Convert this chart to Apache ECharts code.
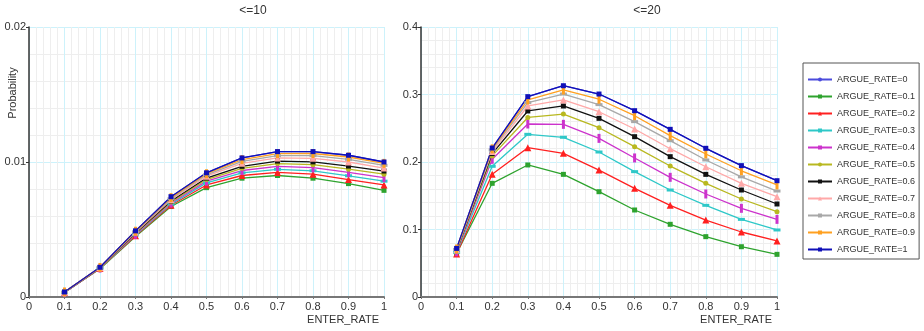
<!DOCTYPE html>
<html>
<head>
<meta charset="utf-8">
<script src="https://cdn.jsdelivr.net/npm/echarts@6/dist/echarts.min.js"></script>
<style>
    html, body {margin: 0; padding: 0; background: #fff;}
    #chart {width: 924px; height: 331px;}
</style>
</head>
<body>
<div id="chart"></div>
<script>
// enter rate on the x axis of both panels
const enterRates = [0.1, 0.2, 0.3, 0.4, 0.5, 0.6, 0.7, 0.8, 0.9, 1];
const argueNames = ['ARGUE_RATE=0', 'ARGUE_RATE=0.1', 'ARGUE_RATE=0.2', 'ARGUE_RATE=0.3', 'ARGUE_RATE=0.4',
    'ARGUE_RATE=0.5', 'ARGUE_RATE=0.6', 'ARGUE_RATE=0.7', 'ARGUE_RATE=0.8', 'ARGUE_RATE=0.9', 'ARGUE_RATE=1'];
const xTicks = [0, 0.1, 0.2, 0.3, 0.4, 0.5, 0.6, 0.7, 0.8, 0.9, 1];

// panel "<=10"
const le10_r0 = [0.00037, 0.00220, 0.00490, 0.00743, 0.00920, 0.01030, 0.01077, 0.01077, 0.01050, 0.01000];
const le10_r01 = [0.00033, 0.00210, 0.00448, 0.00670, 0.00810, 0.00880, 0.00900, 0.00880, 0.00840, 0.00790];
const le10_r02 = [0.00033, 0.00212, 0.00454, 0.00680, 0.00830, 0.00900, 0.00923, 0.00910, 0.00870, 0.00830];
const le10_r03 = [0.00034, 0.00213, 0.00460, 0.00688, 0.00845, 0.00920, 0.00946, 0.00935, 0.00898, 0.00858];
const le10_r04 = [0.00034, 0.00214, 0.00465, 0.00696, 0.00858, 0.00937, 0.00968, 0.00958, 0.00923, 0.00885];
const le10_r05 = [0.00035, 0.00215, 0.00470, 0.00704, 0.00870, 0.00953, 0.00988, 0.00980, 0.00947, 0.00910];
const le10_r06 = [0.00035, 0.00216, 0.00474, 0.00711, 0.00881, 0.00968, 0.01007, 0.01001, 0.00970, 0.00933];
const le10_r07 = [0.00036, 0.00217, 0.00479, 0.00720, 0.00895, 0.00990, 0.01030, 0.01027, 0.01000, 0.00955];
const le10_r08 = [0.00036, 0.00218, 0.00483, 0.00728, 0.00905, 0.01005, 0.01047, 0.01047, 0.01020, 0.00975];
const le10_r09 = [0.00037, 0.00219, 0.00487, 0.00736, 0.00913, 0.01018, 0.01062, 0.01063, 0.01037, 0.00990];
const le10_r1 = [0.00037, 0.00220, 0.00490, 0.00743, 0.00920, 0.01030, 0.01077, 0.01077, 0.01050, 0.01000];

// panel "<=20"
const le20_r0 = [0.0720, 0.2207, 0.2968, 0.3130, 0.3007, 0.2760, 0.2484, 0.2203, 0.1946, 0.1723];
const le20_r01 = [0.0645, 0.1684, 0.1956, 0.1817, 0.1560, 0.1289, 0.1077, 0.0894, 0.0745, 0.0632];
const le20_r02 = [0.0637, 0.1820, 0.2212, 0.2128, 0.1880, 0.1610, 0.1358, 0.1140, 0.0963, 0.0830];
const le20_r03 = [0.0660, 0.1936, 0.2410, 0.2366, 0.2148, 0.1857, 0.1585, 0.1358, 0.1150, 0.0993];
const le20_r04 = [0.0670, 0.2040, 0.2563, 0.2558, 0.2350, 0.2060, 0.1773, 0.1526, 0.1314, 0.1150];
const le20_r05 = [0.0680, 0.2090, 0.2660, 0.2710, 0.2508, 0.2227, 0.1940, 0.1684, 0.1452, 0.1264];
const le20_r06 = [0.0690, 0.2125, 0.2756, 0.2830, 0.2647, 0.2375, 0.2079, 0.1817, 0.1585, 0.1378];
const le20_r07 = [0.0700, 0.2155, 0.2830, 0.2919, 0.2745, 0.2489, 0.2197, 0.1930, 0.1684, 0.1486];
const le20_r08 = [0.0705, 0.2180, 0.2880, 0.3007, 0.2850, 0.2598, 0.2316, 0.2030, 0.1780, 0.1570];
const le20_r09 = [0.0712, 0.2195, 0.2920, 0.3067, 0.2930, 0.2686, 0.2390, 0.2119, 0.1870, 0.1660];
const le20_r1 = [0.0720, 0.2207, 0.2968, 0.3130, 0.3007, 0.2760, 0.2484, 0.2203, 0.1946, 0.1723];

const le10Values = [le10_r0, le10_r01, le10_r02, le10_r03, le10_r04, le10_r05, le10_r06, le10_r07, le10_r08, le10_r09, le10_r1];
const le20Values = [le20_r0, le20_r01, le20_r02, le20_r03, le20_r04, le20_r05, le20_r06, le20_r07, le20_r08, le20_r09, le20_r1];

// line colour + marker per argue rate
const styles = [
    {color: '#4b4bdc', symbol: 'circle', size: 4},
    {color: '#2ea32e', symbol: 'rect', size: 5},
    {color: '#ff2020', symbol: 'triangle', size: 7},
    {color: '#2ec8c8', symbol: 'rect', size: [7, 3]},
    {color: '#cc33cc', symbol: 'rect', size: [3, 9]},
    {color: '#b8b820', symbol: 'circle', size: 5},
    {color: '#111111', symbol: 'rect', size: 5},
    {color: '#ffa8a8', symbol: 'triangle', size: 7},
    {color: '#a8a8a8', symbol: 'rect', size: [7, 3]},
    {color: '#ffa020', symbol: 'rect', size: [3, 9]},
    {color: '#1010b8', symbol: 'rect', size: 5}
];

const font = 'Liberation Sans, Arial, sans-serif';

function makeXAxis(gridIndex) {
    return {
        type: 'value', gridIndex, min: 0, max: 1, interval: 0.1,
        name: 'ENTER_RATE', nameLocation: 'end', nameGap: -5,
        nameTextStyle: {color: '#333', fontSize: 11, fontFamily: font, align: 'right', verticalAlign: 'top', padding: [17, 0, 0, 0]},
        axisLine: {onZero: false, lineStyle: {color: '#777', width: 2}},
        axisTick: {show: true, length: 2, lineStyle: {color: '#777'}},
        axisLabel: {color: '#333', fontSize: 11, fontFamily: font, margin: 4,
            formatter: v => xTicks.indexOf(Math.round(v * 10) / 10) >= 0 ? String(Math.round(v * 10) / 10) : ''},
        splitLine: {show: true, lineStyle: {color: '#cdf2fb', width: 1}},
        minorSplitLine: {show: true, lineStyle: {color: '#eeeeee', width: 1}},
        minorTick: {show: false, splitNumber: 5}
    };
}

function makeYAxis(gridIndex, max, interval, name) {
    return {
        type: 'value', gridIndex, min: 0, max, interval,
        name, nameLocation: 'middle', nameGap: 11, nameMoveOverlap: false,
        nameTextStyle: {color: '#333', fontSize: 11, fontFamily: font, padding: [0, 0, 0, 138]},
        axisLine: {show: true, lineStyle: {color: '#333', width: 1.5}},
        axisTick: {show: true, length: 3, lineStyle: {color: '#333'}},
        axisLabel: {color: '#333', fontSize: 11, fontFamily: font, margin: 3},
        splitLine: {show: true, lineStyle: {color: '#cdf2fb', width: 1}},
        minorSplitLine: {show: true, lineStyle: {color: '#eeeeee', width: 1}},
        minorTick: {show: false, splitNumber: 5}
    };
}

function makeSeries(values, idx) {
    return values.map((vals, i) => ({
        name: argueNames[i],
        type: 'line',
        xAxisIndex: idx, yAxisIndex: idx,
        data: enterRates.map((x, k) => [x, vals[k]]),
        color: styles[i].color,
        symbol: styles[i].symbol,
        symbolSize: styles[i].size,
        showAllSymbol: true,
        lineStyle: {width: 1.3, color: styles[i].color},
        itemStyle: {color: styles[i].color},
        animation: false
    }));
}

const option = {
    animation: false,
    backgroundColor: '#fff',
    title: [
        {text: '<=10', left: 248, top: 0, textAlign: 'center', textStyle: {color: '#333', fontSize: 12, fontWeight: 'normal', fontFamily: font}},
        {text: '<=20', left: 642, top: 0, textAlign: 'center', textStyle: {color: '#333', fontSize: 12, fontWeight: 'normal', fontFamily: font}}
    ],
    legend: {
        orient: 'vertical', left: 803, top: 63,
        data: argueNames,
        itemWidth: 24, itemHeight: 5, itemGap: 8,
        padding: [12, 4, 5, 4],
        borderColor: '#555', borderWidth: 1,
        textStyle: {color: '#333', fontSize: 9, fontFamily: font}
    },
    grid: [
        {left: 29, right: 540, top: 27, bottom: 34, outerBoundsMode: 'none'},
        {left: 421, right: 147, top: 27, bottom: 34, outerBoundsMode: 'none'}
    ],
    xAxis: [makeXAxis(0), makeXAxis(1)],
    yAxis: [makeYAxis(0, 0.02, 0.01, 'Probability'), makeYAxis(1, 0.4, 0.1, '')],
    series: makeSeries(le10Values, 0).concat(makeSeries(le20Values, 1))
};

const chart = echarts.init(document.getElementById('chart'));
chart.setOption(option);
</script>
</body>
</html>
